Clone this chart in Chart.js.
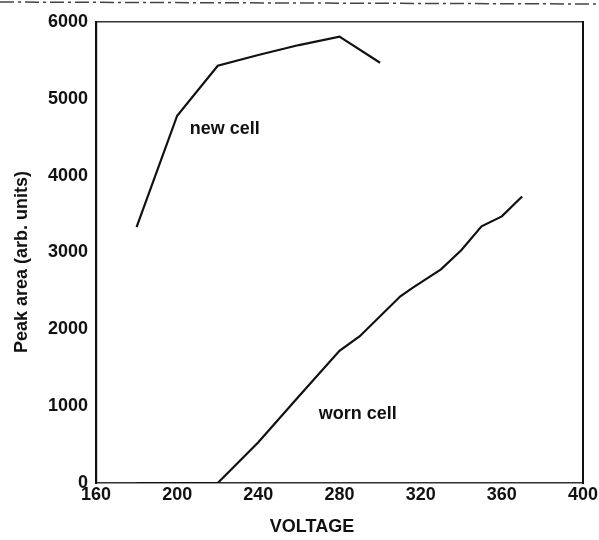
<!DOCTYPE html>
<html>
<head>
<meta charset="utf-8">
<title>Peak area vs voltage</title>
<script src="https://cdn.jsdelivr.net/npm/chart.js@4.4.1/dist/chart.umd.min.js"></script>
<style>
  html, body { margin: 0; padding: 0; background: #fff; }
  #wrap { width: 599px; height: 540px; }
</style>
</head>
<body>
<div id="wrap"><canvas id="chart" width="599" height="540"></canvas></div>
<script>
// Data
const newVoltage = [180, 200, 220, 240, 260, 280, 300];
const newArea = [3330, 4780, 5430, 5570, 5700, 5810, 5470];

const wornVoltage = [180, 200, 220, 240, 260, 280, 290, 310, 316, 330, 340, 350, 360, 370];
const wornArea = [0, 0, 0, 530, 1130, 1720, 1910, 2430, 2540, 2780, 3030, 3340, 3470, 3730];

const xTicks = [160, 200, 240, 280, 320, 360, 400];
const yTicks = [0, 1000, 2000, 3000, 4000, 5000, 6000];

const seriesNames = ['new cell', 'worn cell'];

const ink = '#111';
const font = { family: "'Liberation Sans', Arial, sans-serif", size: 18, weight: 'bold' };

function toPoints(xs, ys) {
  return xs.map((x, i) => ({ x: x, y: ys[i] }));
}

// Axis titles, curve labels and the scan edge line
const textPlugin = {
  id: 'figureText',
  afterDraw(chart) {
    const ctx = chart.ctx;
    const x = chart.scales.x;
    const y = chart.scales.y;
    ctx.save();
    ctx.fillStyle = ink;
    ctx.font = 'bold ' + font.size + 'px ' + font.family;
    ctx.textAlign = 'center';
    ctx.textBaseline = 'middle';

    ctx.fillText(seriesNames[0], x.getPixelForValue(223.5), y.getPixelForValue(4610));
    ctx.fillText(seriesNames[1], x.getPixelForValue(289), y.getPixelForValue(900));

    ctx.fillText('VOLTAGE', 312, 527);

    ctx.translate(22, 262);
    ctx.rotate(-Math.PI / 2);
    ctx.fillText('Peak area (arb. units)', 0, 0);
    ctx.restore();

    // faint dashed edge from the scan
    ctx.save();
    ctx.strokeStyle = '#444';
    ctx.lineWidth = 1.5;
    ctx.setLineDash([14, 4, 3, 4]);
    ctx.beginPath();
    ctx.moveTo(0, 2);
    ctx.lineTo(599, 4);
    ctx.stroke();
    ctx.restore();
  }
};

new Chart(document.getElementById('chart'), {
  type: 'line',
  data: {
    datasets: [
      {
        label: seriesNames[0],
        data: toPoints(newVoltage, newArea),
        borderColor: ink,
        borderWidth: 2.2,
        pointRadius: 0,
        tension: 0
      },
      {
        label: seriesNames[1],
        data: toPoints(wornVoltage, wornArea),
        borderColor: ink,
        borderWidth: 2.2,
        pointRadius: 0,
        tension: 0
      }
    ]
  },
  options: {
    responsive: false,
    animation: false,
    layout: { padding: 0 },
    plugins: {
      legend: { display: false },
      tooltip: { enabled: false }
    },
    scales: {
      x: {
        type: 'linear',
        position: 'bottom',
        min: 160,
        max: 400,
        afterBuildTicks: scale => { scale.ticks = xTicks.map(v => ({ value: v })); },
        afterFit: scale => { scale.height = 57; },
        grid: { color: 'transparent', drawTicks: false },
        border: { color: '#333', width: 1.5, dash: [12, 3, 4, 3] },
        ticks: { color: ink, font: font, padding: 1, maxRotation: 0, callback: v => String(v) }
      },
      xTop: {
        type: 'linear',
        position: 'top',
        afterFit: scale => { scale.height = 22; },
        grid: { color: 'transparent', drawTicks: false },
        border: { color: '#333', width: 1.5, dash: [10, 3, 3, 3] },
        ticks: { display: false }
      },
      y: {
        type: 'linear',
        position: 'left',
        min: 0,
        max: 6000,
        afterBuildTicks: scale => { scale.ticks = yTicks.map(v => ({ value: v })); },
        afterFit: scale => { scale.width = 96; },
        grid: { color: 'transparent', drawTicks: false },
        border: { color: ink, width: 2.2 },
        ticks: { color: ink, font: font, padding: 8, callback: v => String(v) }
      },
      yRight: {
        type: 'linear',
        position: 'right',
        afterFit: scale => { scale.width = 15; },
        grid: { color: 'transparent', drawTicks: false },
        border: { color: ink, width: 2 },
        ticks: { display: false }
      }
    }
  },
  plugins: [textPlugin]
});
</script>
</body>
</html>
